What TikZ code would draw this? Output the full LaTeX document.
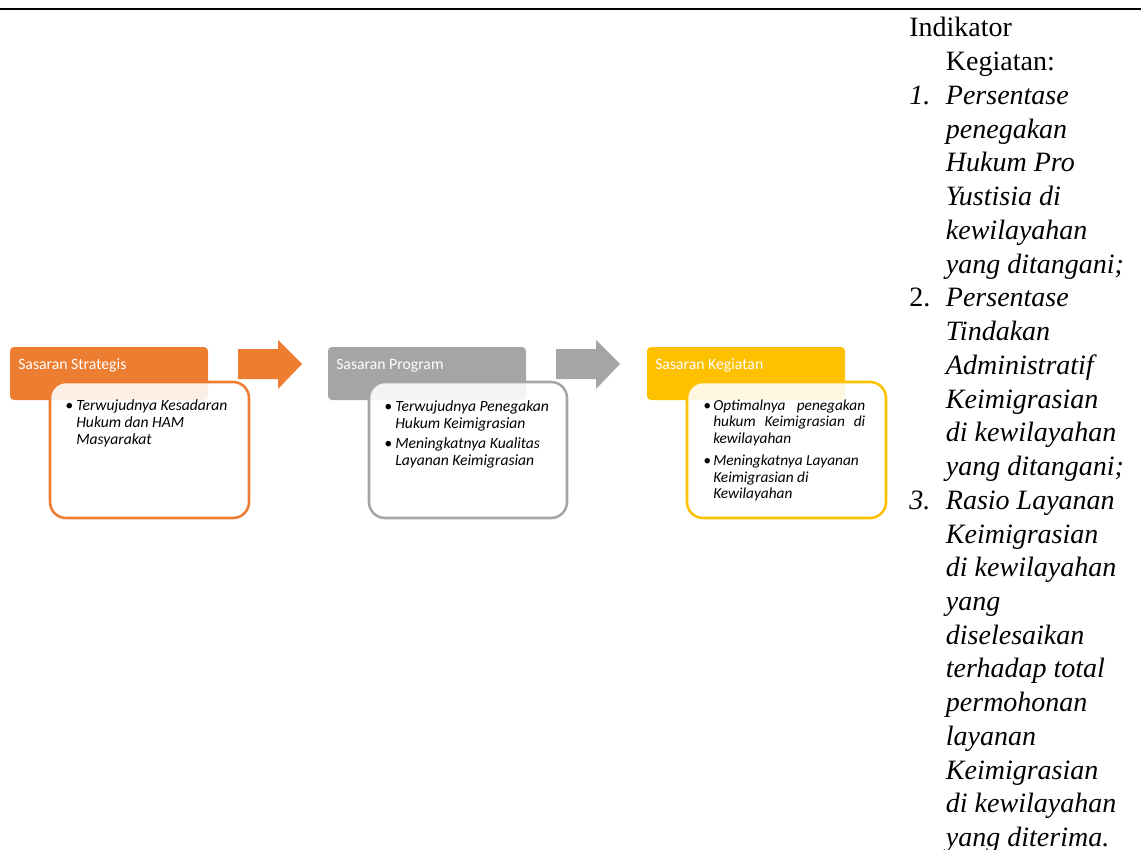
\documentclass[tikz,border=0pt]{standalone}
\usepackage{fontspec}
\setmainfont{Liberation Serif}
\newfontfamily\boxfont{Carlito}
\usepackage{array}
\definecolor{cOrange}{HTML}{ED7D31}
\definecolor{cGray}{HTML}{A5A5A5}
\definecolor{cGold}{HTML}{FFC000}
\tikzset{
  head/.style={fill=#1, draw=none, rounded corners=3pt},
  body/.style={fill=white, fill opacity=0.88, draw=#1, draw opacity=1, line width=1.9pt, rounded corners=12pt},
  headtext/.style={anchor=base west, inner sep=0pt, text=white, font=\boxfont\fontsize{11.8}{14}\selectfont},
  bodytext/.style={anchor=base west, inner sep=0pt, text=black, font=\boxfont\fontsize{11.7}{12.9}\selectfont\itshape},
  bigarrow/.style={fill=#1, draw=none},
  indtext/.style={anchor=base west, inner sep=0pt, font=\fontsize{21}{25.3}\selectfont}
}
\begin{document}
\begin{tikzpicture}[x=0.75pt, y=-0.75pt]
\useasboundingbox (0,0) rectangle (1141,849);
% top rule
\draw[line width=1.2pt] (0,9) -- (1141,9);

% ---- Sasaran Strategis
\fill[head=cOrange] (10,347) rectangle (208,400);
\node[headtext] (h1) at (18,369) {Sasaran Strategis};
\draw[body=cOrange] (50,382) rectangle (249,518);
\node[bodytext] (b1) at (65,410) {\begin{tabular}[t]{@{}p{8.25pt}@{}l@{}}
\textbullet & Terwujudnya Kesadaran\\
 & Hukum dan HAM\\
 & Masyarakat
\end{tabular}};

% arrow 1
\fill[bigarrow=cOrange] (238,349) -- (278,349) -- (278,340) -- (302,364) -- (278,389) -- (278,379) -- (238,379) -- cycle;

% ---- Sasaran Program
\fill[head=cGray] (328,347) rectangle (526,400);
\node[headtext] (h2) at (336,369) {Sasaran Program};
\draw[body=cGray] (369,382) rectangle (567,518);
\node[bodytext] (b2) at (384,411) {\begin{tabular}[t]{@{}p{8.25pt}@{}l@{}}
\textbullet & Terwujudnya Penegakan\\
 & Hukum Keimigrasian\\[2pt]
\textbullet & Meningkatnya Kualitas\\
 & Layanan Keimigrasian
\end{tabular}};

% arrow 2
\fill[bigarrow=cGray] (556,349) -- (596,349) -- (596,340) -- (620,364) -- (596,389) -- (596,379) -- (556,379) -- cycle;

% ---- Sasaran Kegiatan
\fill[head=cGold] (647,347) rectangle (845,400);
\node[headtext] (h3) at (655,369) {Sasaran Kegiatan};
\draw[body=cGold] (687,382) rectangle (886,518);
\node[bodytext, font=\boxfont\fontsize{11.5}{12.4}\selectfont\itshape] (b3) at (703,410) {\begin{tabular}[t]{@{}p{7.5pt}@{}l@{}}
\textbullet & \hbox to 114pt{Optimalnya\hfill penegakan}\\
 & \hbox to 114pt{hukum\hfill Keimigrasian\hfill di}\\
 & kewilayahan\\[4.5pt]
\textbullet & Meningkatnya Layanan\\
 & Keimigrasian di\\
 & Kewilayahan
\end{tabular}};

% ---- Indikator Kegiatan
\node[indtext] (ind) at (909,37) {\begin{tabular}[t]{@{}p{27.5pt}@{}l@{}}
\multicolumn{2}{@{}l@{}}{Indikator}\\
 & Kegiatan:\\
\textit{1.} & \textit{Persentase}\\
 & \textit{penegakan}\\
 & \textit{Hukum Pro}\\
 & \textit{Yustisia di}\\
 & \textit{kewilayahan}\\
 & \textit{yang ditangani;}\\
2. & \textit{Persentase}\\
 & \textit{Tindakan}\\
 & \textit{Administratif}\\
 & \textit{Keimigrasian}\\
 & \textit{di kewilayahan}\\
 & \textit{yang ditangani;}\\
\textit{3.} & \textit{Rasio Layanan}\\
 & \textit{Keimigrasian}\\
 & \textit{di kewilayahan}\\
 & \textit{yang}\\
 & \textit{diselesaikan}\\
 & \textit{terhadap total}\\
 & \textit{permohonan}\\
 & \textit{layanan}\\
 & \textit{Keimigrasian}\\
 & \textit{di kewilayahan}\\
 & \textit{yang diterima.}
\end{tabular}};
\end{tikzpicture}
\end{document}
